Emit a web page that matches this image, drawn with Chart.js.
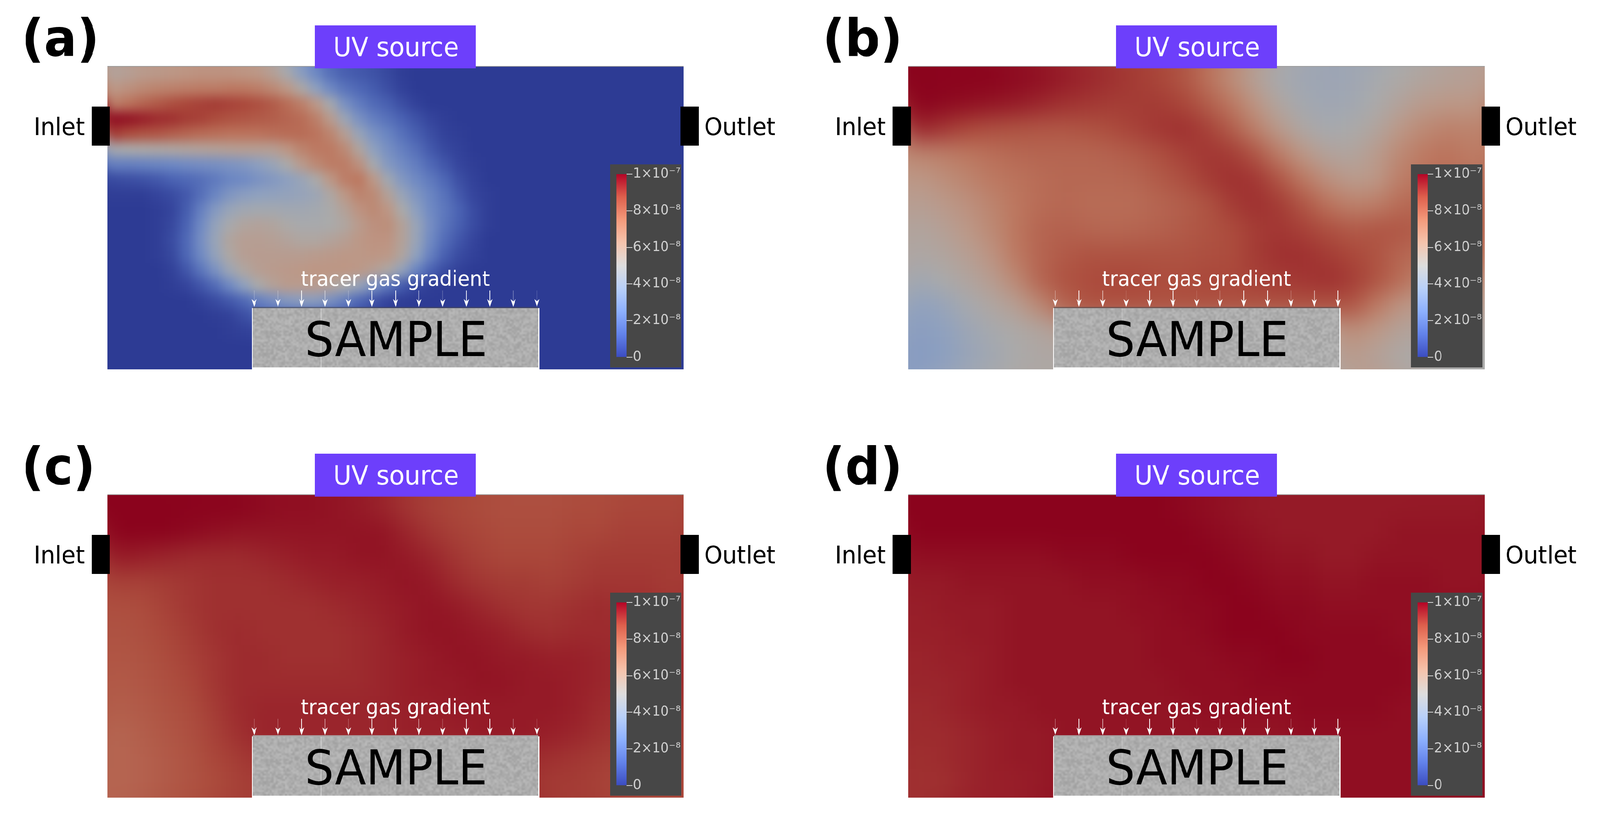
<!DOCTYPE html>
<html><head><meta charset="utf-8">
<style>
html,body{margin:0;padding:0;background:#fff;overflow:hidden}
#stage{position:absolute;left:0;top:0;width:4312px;height:2090px;transform-origin:0 0;background:#fff}
canvas{position:absolute;display:block}
</style>
<script src="https://cdn.jsdelivr.net/npm/chart.js@4"></script>
</head><body>
<div id="stage"></div>
<script>
// Tracer gas concentration in units of 1e-9. Omitted trailing cells are 0.
const fieldA = [
[55,57,60,61,62,63,64,64,64,63,62,57,49,36,25,16,11,9,7,4,1],
[62,65,68,70,71,72,73,73,74,74,72,68,62,52,38,26,18,14,10,6,2],
[72,76,80,83,86,88,89,90,89,88,86,83,78,72,62,48,30,21,15,11,6,2],
[98,97,95,93,92,90,89,87,85,84,83,82,80,78,72,60,44,30,22,17,12,7,3,1],
[90,87,85,84,82,80,78,77,76,76,76,77,78,78,76,70,58,42,31,24,17,11,6,2,1],
[48,50,51,52,53,54,55,56,57,58,58,58,63,70,74,74,68,54,38,29,22,16,9,4,2],
[22,22,23,24,25,27,28,29,31,33,37,42,50,60,68,73,73,65,48,34,27,21,14,8,3,1],
[5,6,7,9,12,14,16,20,24,26,30,33,37,42,50,62,72,75,62,46,33,26,20,13,6,2],
[1,1,1,3,5,9,16,24,32,36,38,39,40,41,44,52,62,70,68,56,42,32,24,17,9,3,1],
[0,0,0,1,3,10,22,34,42,46,47,47,46,46,47,50,56,64,68,63,50,37,26,19,12,5,1],
[0,0,0,1,4,12,26,40,49,54,55,54,51,49,49,50,53,60,65,66,56,42,28,18,11,5,1],
[0,0,0,1,5,14,28,42,54,58,58,57,55,53,53,55,58,62,64,64,56,42,26,15,8,3],
[0,0,0,1,4,13,26,40,52,58,59,59,59,59,60,61,62,62,63,62,54,38,22,11,5,2],
[0,0,0,0,2,8,18,30,44,53,58,60,61,62,63,63,63,62,58,52,40,24,12,5,2],
[0,0,0,0,1,3,8,15,26,38,50,56,60,60,60,56,50,42,30,20,10,4,1],
[0,0,0,0,0,0,2,5,9,14,22,28,34,36,36,30,22,14,8,3,1],
[0,0,0,0,0,0,0,1,2,6,10,12,12,12,12,10,8,4,2],
[0,0,0,0,0,0,0,0,1,2,3,3,3,3,3,2,1],
[],
[]
];
const fieldB = [
[100,100,100,100,99,98,96,94,92,90,88,84,76,66,56,48,45,44,45,48,51,54,56,57],
[100,99,98,97,96,94,92,91,90,90,90,88,82,74,63,53,47,45,46,50,55,60,62,62],
[94,91,88,86,85,84,84,85,87,89,91,92,89,82,71,60,52,48,50,54,62,68,71,70],
[70,72,75,77,79,80,80,80,81,83,86,89,91,90,84,72,62,55,54,60,68,74,76,73],
[62,66,70,74,76,78,79,79,79,80,83,86,90,92,91,84,74,65,60,62,72,76,78,76],
[58,61,65,70,75,78,79,78,78,78,80,82,85,90,92,90,84,76,71,72,78,80,80,78],
[54,57,62,68,75,80,81,80,79,80,81,83,85,87,90,91,89,86,83,84,84,82,80,78],
[52,54,58,64,74,80,83,85,85,85,85,85,86,87,90,92,92,90,88,85,80,78,76,74],
[46,50,54,59,68,80,85,87,88,88,87,87,88,88,89,90,91,92,90,85,78,70,66,63],
[38,42,48,53,58,68,80,85,85,85,85,85,85,85,85,85,85,85,84,74,64,60,58,56],
[36,38,44,48,51,54,58,60,60,60,60,60,60,60,60,60,60,60,66,62,56,54,52,50],
[35,37,42,46,50,52,52,54,54,54,54,54,54,54,54,54,54,54,60,56,52,50,50,50]
];
const fieldC = [
[100,100,100,100,100,100,99,98,98,97,96,94,91,89,88,87,86,86,86,87,87,88,88,88],
[100,100,100,99,98,97,97,97,97,97,97,97,94,91,89,88,87,87,87,88,88,89,89,89],
[96,95,94,93,93,93,94,95,96,96,97,97,96,94,91,89,88,88,88,89,90,90,90,90],
[89,89,90,91,92,92,92,93,94,95,95,96,97,96,93,91,90,90,89,90,91,91,91,90],
[86,87,89,91,92,92,92,92,92,93,94,95,96,97,96,94,92,91,91,92,93,92,92,91],
[85,86,88,90,92,93,92,92,92,92,93,94,96,97,97,96,95,93,92,93,93,93,92,91],
[84,85,87,89,91,93,93,92,92,92,93,94,95,96,97,97,96,96,95,95,94,93,93,92],
[83,84,86,88,91,93,93,93,93,93,93,94,95,96,96,97,97,96,96,95,94,93,92,92],
[82,83,85,87,90,93,94,94,94,94,94,94,95,95,96,96,96,96,96,95,93,92,91,90],
[80,82,84,86,89,92,94,94,94,94,94,94,95,95,95,96,96,96,95,94,92,91,90,89],
[80,81,83,85,88,90,92,93,93,93,93,93,93,93,93,93,93,93,92,91,90,89,88,88],
[80,81,83,85,87,89,90,92,92,92,92,92,92,92,92,92,92,92,90,90,89,88,88,88]
];
const fieldD = [
[100,100,100,100,100,100,100,100,100,100,100,99,98,97,96,96,96,96,96,96,96,96,96,96],
[100,100,100,100,100,100,100,100,100,100,100,100,99,98,97,96,96,96,96,96,97,97,97,97],
[98,98,98,98,98,98,99,99,99,100,100,100,100,99,98,97,97,96,96,97,97,97,97,97],
[96,96,97,97,97,97,97,98,98,98,99,99,100,100,99,98,98,97,97,98,98,98,97,97],
[95,96,96,96,97,97,97,97,97,98,98,99,99,100,100,99,99,98,98,98,98,98,98,98],
[95,95,96,96,97,97,97,97,97,97,98,98,99,100,100,100,99,99,99,99,98,98,98,98],
[94,95,95,96,97,97,97,97,97,97,98,98,98,99,99,100,100,99,99,99,99,98,98,98],
[94,94,95,96,97,97,97,97,97,97,97,98,98,98,99,99,99,99,99,99,99,98,98,98],
[93,94,95,96,96,97,97,97,97,97,97,97,98,98,98,98,99,99,99,99,98,98,98,97],
[93,93,94,95,96,96,97,97,97,97,97,97,97,97,97,97,98,98,98,98,98,98,98,97],
[92,93,94,95,96,96,97,97,97,97,97,97,97,97,97,97,98,98,98,98,98,98,98,98],
[92,92,94,95,95,96,97,97,97,97,97,97,97,97,97,97,98,98,98,98,98,98,98,98]
];
const panelLabels = ['(a)','(b)','(c)','(d)'];
const sourceLabel = 'UV source';
const inletLabel = 'Inlet';
const outletLabel = 'Outlet';
const gradientLabel = 'tracer gas gradient';
const sampleLabel = 'SAMPLE';
const colorbarTicks = [0,20,40,60,80,100];
const colorbarTickLabels = ['0','2×10⁻⁸','4×10⁻⁸','6×10⁻⁸','8×10⁻⁸','1×10⁻⁷'];
const arrowStrengthAC = [.2,.45,1,.5,.2,.9,1,.5,.2,.9,1,.3,.25];
const arrowStrengthBD = [.55,1,.6,.1,1,1,.2,.2,1,1,.2,.6,1];

// Fit the 4312x2090 layout to the window that is actually open
const stage=document.getElementById('stage');
stage.style.transform=`scale(${window.innerWidth/4312},${window.innerHeight/2090})`;

// Cool-to-warm map
const mapStops = [[59,76,192],[98,130,234],[141,176,254],[184,208,249],[221,221,221],[245,196,173],[244,154,123],[222,96,77],[180,4,38]];
function mapColor(v,shade){
  const t=Math.max(0,Math.min(1,v/100))*(mapStops.length-1), i=Math.min(mapStops.length-2,Math.floor(t)), f=t-i;
  const c=mapStops[i].map((a,k)=>Math.round((a+(mapStops[i+1][k]-a)*f)*shade));
  return `rgb(${c[0]},${c[1]},${c[2]})`;
}
const FIELD_SHADE=0.77;
const FONT='"DejaVu Sans"';

// Sample surface speckle
function makeSpeckle(){
  const c=document.createElement('canvas');c.width=150;c.height=32;
  const x=c.getContext('2d');
  for(let j=0;j<32;j++)for(let i=0;i<150;i++){
    const h=Math.sin(i*12.9898+j*78.233)*43758.5453; const n=h-Math.floor(h);
    const g=Math.round(160+n*26); x.fillStyle=`rgb(${g},${g},${g})`; x.fillRect(i,j,1,1);
  }
  return c;
}
const speckle=makeSpeckle();

const smoothPlugin={id:'smoothField',afterDatasetsDraw(chart,args,opts){
  const a=chart.chartArea,w=Math.round(a.right-a.left),h=Math.round(a.bottom-a.top),s=opts.sigma,m=Math.ceil(s*3);
  const off=document.createElement('canvas');off.width=w+2*m;off.height=h+2*m;
  const o=off.getContext('2d');
  o.drawImage(chart.canvas,a.left,a.top,w,h,0,0,w+2*m,h+2*m);
  o.drawImage(chart.canvas,a.left,a.top,w,h,m,m,w,h);
  const c=chart.ctx;c.save();c.beginPath();c.rect(a.left,a.top,w,h);c.clip();
  c.filter=`blur(${s}px)`;c.drawImage(off,a.left-m,a.top-m);c.restore();
}};

const overlayPlugin={id:'overlay',afterDraw(chart,args,opts){
  const c=chart.ctx;c.save();
  c.textBaseline='alphabetic';
  c.fillStyle='rgba(150,150,150,.9)';c.fillRect(289,169,1553,2);
  c.fillStyle='#fff';c.fillRect(679,789,775,157);
  c.imageSmoothingEnabled=true;c.imageSmoothingQuality='high';
  c.drawImage(speckle,681,790,770,151);
  c.fillStyle='rgba(235,235,235,.6)';c.fillRect(864,790,2,151);
  if(opts.darkEdge){c.fillStyle='rgba(70,70,75,.55)';c.fillRect(681,786,770,4);}
  else{c.fillStyle='rgba(170,170,170,.9)';c.fillRect(681,786,770,4);}
  const xs=[685,749,813,876,939,1002,1066,1129,1193,1257,1320,1383,1447];
  xs.forEach((x,i)=>{
    c.fillStyle=`rgba(255,255,255,${opts.arrows[i]})`;c.fillRect(x-1,744,2,28);
    c.fillStyle='#fff';c.beginPath();c.moveTo(x-7,766);c.lineTo(x,772);c.lineTo(x+7,766);c.lineTo(x,786);c.closePath();c.fill();
  });
  c.fillStyle='#fff';c.font=`53px ${FONT}`;c.fillText(gradientLabel,811,732);
  c.fillStyle='#000';c.font=`123px ${FONT}`;c.fillText(sampleLabel,822,912);
  c.fillStyle='#6d3ffb';c.fillRect(849,65,433,110);
  c.fillStyle='#fff';c.font=`67px ${FONT}`;c.fillText(sourceLabel,898,144);
  c.fillStyle='#000';c.fillRect(247,273,49,100);c.fillRect(1834,273,49,100);
  c.font=`62px ${FONT}`;c.fillText(inletLabel,91,346);c.fillText(outletLabel,1898,346);
  c.font=`bold 132px ${FONT}`;c.fillText(opts.label,58,143);
  c.restore();
}};

function buildPoints(rows){
  const cols=rows.length*2, pts=[];
  rows.forEach((row,r)=>{for(let k=0;k<cols;k++){pts.push({x:k+.5,y:r+.5,v:row[k]??0});}});
  return pts;
}

function addCanvas(left,top,w,h,bg){
  const cv=document.createElement('canvas');cv.width=w;cv.height=h;
  cv.style.left=left+'px';cv.style.top=top+'px';cv.style.width=w+'px';cv.style.height=h+'px';
  if(bg)cv.style.background=bg;
  stage.appendChild(cv);return cv;
}

function makePanel(ox,oy,rows,label,arrows,darkEdge,sigma){
  const cv=addCanvas(ox,oy,2153,993);
  new Chart(cv,{type:'scatter',
    data:{datasets:[{label:'tracer gas',data:buildPoints(rows),
      pointStyle:'rect',borderWidth:0,
      pointBackgroundColor:ctx=>mapColor(ctx.raw?ctx.raw.v:0,FIELD_SHADE),
      pointBorderWidth:0,
      pointRadius:ctx=>{const x=ctx.chart.scales.x;return Math.abs(x.getPixelForValue(1)-x.getPixelForValue(0))*0.76;},
      pointHoverRadius:0}]},
    options:{responsive:false,animation:false,devicePixelRatio:1,events:[],
      layout:{padding:{left:289,top:170,right:311,bottom:47}},
      scales:{x:{type:'linear',min:0,max:rows.length*2,display:false},
              y:{type:'linear',min:0,max:rows.length,reverse:true,display:false}},
      plugins:{legend:{display:false},tooltip:{enabled:false},
        smoothField:{sigma},overlay:{label,arrows,darkEdge}}},
    plugins:[smoothPlugin,overlayPlugin]});
  const cb=addCanvas(ox+1644,oy+421,192,520,'#474747');
  new Chart(cb,{type:'bar',
    data:{labels:['c'],datasets:[{data:[[colorbarTicks[0],colorbarTicks[colorbarTicks.length-1]]],
      barPercentage:1,categoryPercentage:1,borderWidth:0,
      backgroundColor:ctx=>{
        const ch=ctx.chart,a=ch.chartArea;if(!a)return '#888';
        const g=ch.ctx.createLinearGradient(0,a.bottom,0,a.top);
        for(let i=0;i<=16;i++)g.addColorStop(i/16,mapColor(i/16*100,1));
        return g;}}]},
    options:{responsive:false,animation:false,devicePixelRatio:1,events:[],
      layout:{padding:{left:17,top:25,right:0,bottom:26}},
      scales:{x:{display:false},
        y:{position:'right',min:0,max:100,
          afterBuildTicks:s=>{s.ticks=colorbarTicks.map(v=>({value:v}));},
          afterFit:s=>{s.width=147;},
          border:{display:false},
          grid:{drawOnChartArea:false,drawTicks:true,tickLength:15,color:'#d8d8d8',lineWidth:2},
          ticks:{color:'#cfcfcf',font:{family:'DejaVu Sans',size:35},padding:2,
            callback:v=>colorbarTickLabels[colorbarTicks.indexOf(v)]}}},
      plugins:{legend:{display:false},tooltip:{enabled:false}}}});
}

makePanel(0,0,fieldA,panelLabels[0],arrowStrengthAC,true,14);
makePanel(2159,0,fieldB,panelLabels[1],arrowStrengthBD,true,28);
makePanel(0,1097,fieldC,panelLabels[2],arrowStrengthAC,false,28);
makePanel(2159,1097,fieldD,panelLabels[3],arrowStrengthBD,false,28);
</script>
</body></html>
